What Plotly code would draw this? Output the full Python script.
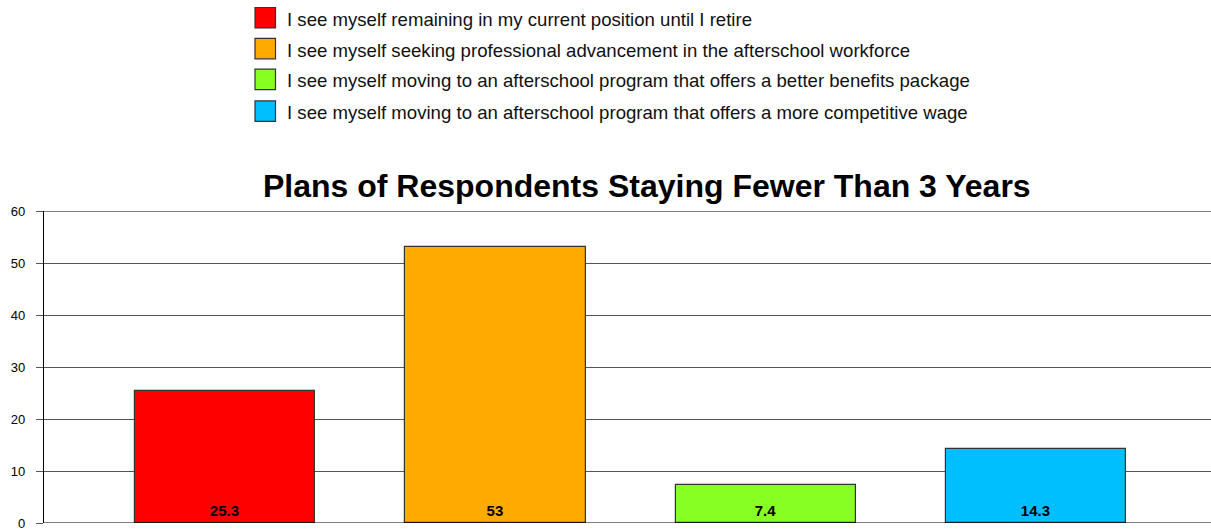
import plotly.graph_objects as go

categories = [
    "I see myself remaining in my current position until I retire",
    "I see myself seeking professional advancement in the afterschool workforce",
    "I see myself moving to an afterschool program that offers a better benefits package",
    "I see myself moving to an afterschool program that offers a more competitive wage",
]
values = [25.3, 53, 7.4, 14.3]
value_labels = ["25.3", "53", "7.4", "14.3"]
colors = ["#FF0000", "#FFAA00", "#88FF22", "#00BFFF"]
title_text = "Plans of Respondents Staying Fewer Than 3 Years"
y_ticks = [0, 10, 20, 30, 40, 50, 60]

W, H = 1211, 531
ML, MR, MT, MB = 44, 0, 211, 6
PW = W - ML - MR
PH = H - MT - MB


def px_x(px):
    return (px - ML) / PW


def px_y(py):
    return (H - MB - py) / PH


FONT = "Liberation Sans, Arial, sans-serif"

fig = go.Figure()
fig.add_trace(go.Bar(
    x=list(range(len(categories))),
    y=values,
    text=value_labels,
    textposition="inside",
    insidetextanchor="start",
    textangle=0,
    textfont=dict(family=FONT, size=15, color="black", weight="bold"),
    marker=dict(color=colors, line=dict(color="#333333", width=1.2)),
    width=0.6675,
    showlegend=False,
    hovertext=categories,
))

shapes = []
annotations = []
row_centers = [16.5, 47.5, 78.5, 110.5]
for cat, col, cy in zip(categories, colors, row_centers):
    shapes.append(dict(
        type="rect", xref="paper", yref="paper",
        x0=px_x(255), x1=px_x(275.5), y0=px_y(cy + 10.3), y1=px_y(cy - 10.3),
        fillcolor=col, line=dict(color="#333333", width=1.2),
    ))
    annotations.append(dict(
        xref="paper", yref="paper", x=px_x(285), y=px_y(cy + 1.5),
        xanchor="left", yanchor="middle", showarrow=False,
        text=cat, font=dict(family=FONT, size=18.6, color="#111111"),
    ))

annotations.append(dict(
    xref="paper", yref="paper", x=px_x(646.5), y=px_y(186),
    xanchor="center", yanchor="middle", showarrow=False,
    text="<b>" + title_text + "</b>",
    font=dict(family=FONT, size=32, color="black"),
))

fig.update_layout(
    width=W, height=H,
    margin=dict(l=ML, r=MR, t=MT, b=MB, pad=0),
    paper_bgcolor="white", plot_bgcolor="white",
    shapes=shapes, annotations=annotations,
    bargap=0,
    xaxis=dict(
        range=[-0.669, 3.6464], showticklabels=False, showgrid=False,
        zeroline=False, showline=False, ticks="",
    ),
    yaxis=dict(
        range=[0, 60], tickvals=y_ticks, showgrid=True, gridcolor="#555555",
        gridwidth=1, zeroline=False, showline=True, linecolor="black",
        linewidth=1.2, ticks="outside", ticklen=7, tickcolor="#555555",
        ticklabelstandoff=8, ticklabeloverflow="allow",
        tickfont=dict(family=FONT, size=13, color="black"),
    ),
)
fig.add_hline(y=0, line=dict(color="black", width=1.2))
fig.add_hline(y=60, line=dict(color="black", width=1.2))

post = (
    "document.documentElement.style.overflow='hidden';"
    "document.body.style.margin='0';"
    "document.body.style.overflow='hidden';"
    "var d=document.getElementsByClassName('plotly-graph-div')[0];"
    "d.style.position='fixed';d.style.left='0px';d.style.top='0px';"
)

fig.write_html(
    "out.html",
    config={"displayModeBar": False},
    post_script=post,
)
